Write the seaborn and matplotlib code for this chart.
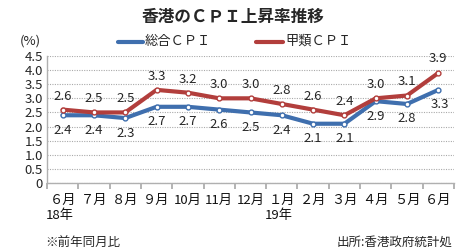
import matplotlib
matplotlib.use("Agg")
import matplotlib.pyplot as plt
import seaborn as sns
import pandas as pd

months = ["６月", "７月", "８月", "９月", "10月", "11月", "12月",
          "１月", "２月", "３月", "４月", "５月", "６月"]
years = ["18年", "", "", "", "", "", "", "19年", "", "", "", "", ""]
sogo = [2.4, 2.4, 2.3, 2.7, 2.7, 2.6, 2.5, 2.4, 2.1, 2.1, 2.9, 2.8, 3.3]
kourui = [2.6, 2.5, 2.5, 3.3, 3.2, 3.0, 3.0, 2.8, 2.6, 2.4, 3.0, 3.1, 3.9]
yticks = [0, 0.5, 1.0, 1.5, 2.0, 2.5, 3.0, 3.5, 4.0, 4.5]
ytick_labels = ["0", "0.5", "1.0", "1.5", "2.0", "2.5", "3.0", "3.5", "4.0", "4.5"]

sns.set_theme(style="white")
plt.rcParams['font.family'] = ['Noto Sans CJK JP', 'DejaVu Sans']

BLUE = "#3f6fae"
RED = "#b23e3c"

df = pd.DataFrame({
    "x": list(range(len(months))) * 2,
    "value": sogo + kourui,
    "series": ["総合ＣＰＩ"] * len(months) + ["甲類ＣＰＩ"] * len(months),
})

fig = plt.figure(figsize=(4.65, 2.47), dpi=100)
ax = fig.add_axes([47 / 465, 1 - 183 / 247, (454 - 47) / 465, (183 - 56) / 247])

sns.lineplot(data=df, x="x", y="value", hue="series",
             palette={"総合ＣＰＩ": BLUE, "甲類ＣＰＩ": RED},
             linewidth=3, marker="o", markersize=3.5,
             markerfacecolor="white", markeredgewidth=1.0,
             ax=ax, legend=False)
for line, c in zip(ax.lines, [BLUE, RED]):
    line.set_markeredgecolor(c)

ax.set_xlim(-0.5, len(months) - 0.5)
ax.set_ylim(0, 4.5)
ax.set_yticks(yticks)
ax.set_yticklabels(ytick_labels, fontsize=9.5)
ax.set_xticks([i - 0.5 for i in range(len(months) + 1)], minor=False)
ax.set_xticklabels([])
ax.tick_params(axis="x", which="major", length=4, color="#aaaaaa", direction="out", bottom=True)
ax.tick_params(axis="y", length=0, pad=3)
for i, (m, yv) in enumerate(zip(months, years)):
    ax.text(i, -0.38, m, ha="center", va="top", fontsize=9.5, color="#111111")
    if yv:
        ax.text(i - 0.55, -0.93, yv, ha="left", va="top", fontsize=9.5, color="#111111")

ax.set_xlabel("")
ax.set_ylabel("")
ax.grid(axis="y", linestyle=(0, (1, 1.2)), color="#aaaaaa", linewidth=0.8)
ax.grid(axis="x", visible=False)
for s in ["top", "right"]:
    ax.spines[s].set_visible(False)
for s in ["left", "bottom"]:
    ax.spines[s].set_color("#b0b0b0")
    ax.spines[s].set_linewidth(1.0)

# value labels
for i, (b, r) in enumerate(zip(sogo, kourui)):
    if i == len(months) - 1:
        ax.text(i, r + 0.28, f"{r:.1f}", ha="center", va="bottom", fontsize=9.5)
        ax.text(i + 0.05, b - 0.3, f"{b:.1f}", ha="center", va="top", fontsize=9.5)
    else:
        ax.text(i, r + 0.25, f"{r:.1f}", ha="center", va="bottom", fontsize=9.5)
        ax.text(i, b - 0.3, f"{b:.1f}", ha="center", va="top", fontsize=9.5)

fig.text(233 / 465, 1 - 17 / 247, "香港のＣＰＩ上昇率推移", ha="center", va="center",
         fontsize=12, fontweight="bold")
fig.text(30 / 465, 1 - 41 / 247, "(%)", ha="center", va="center", fontsize=9.5)

# legend
fig.add_artist(plt.Line2D([118 / 465, 143 / 465], [1 - 42 / 247] * 2, color=BLUE, linewidth=3))
fig.text(145 / 465, 1 - 41 / 247, "総合ＣＰＩ", ha="left", va="center", fontsize=9.5)
fig.add_artist(plt.Line2D([256 / 465, 283 / 465], [1 - 42 / 247] * 2, color=RED, linewidth=3))
fig.text(285 / 465, 1 - 41 / 247, "甲類ＣＰＩ", ha="left", va="center", fontsize=9.5)

fig.text(45 / 465, 1 - 242 / 247, "※前年同月比", ha="left", va="center", fontsize=9)
fig.text(452 / 465, 1 - 242 / 247, "出所:香港政府統計処", ha="right", va="center", fontsize=9)

fig.savefig("out.png", dpi=100)
